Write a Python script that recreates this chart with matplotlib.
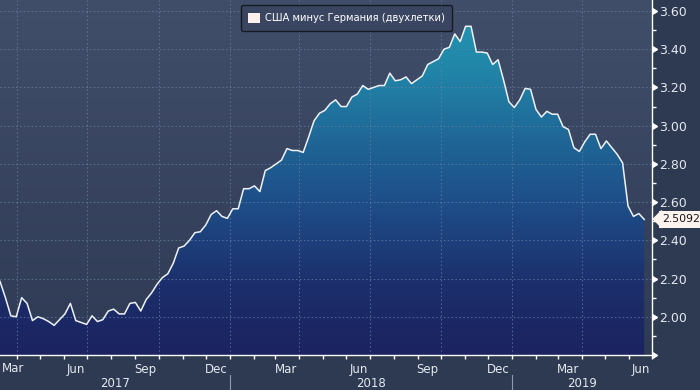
import numpy as np
import pandas as pd
import matplotlib
matplotlib.use('Agg')
from matplotlib import pyplot as plt
import matplotlib.dates as mdates
import matplotlib.transforms as mtransforms
from matplotlib.colors import LinearSegmentedColormap
from matplotlib.patches import Patch

# недельные данные (пятницы), спред 2-летних доходностей США - Германия
start = '2017-03-10'
spread = [2.185, 2.10, 2.005, 2.00, 2.10, 2.07, 1.98, 2.00, 1.99, 1.975,
          1.955, 1.985, 2.015, 2.07, 1.98, 1.97, 1.96, 2.005, 1.975, 1.985,
          2.03, 2.04, 2.015, 2.015, 2.07, 2.075, 2.03, 2.09, 2.125, 2.17,
          2.205, 2.225, 2.28, 2.36, 2.37, 2.40, 2.44, 2.445, 2.48, 2.535,
          2.555, 2.525, 2.515, 2.565, 2.565, 2.67, 2.67, 2.685, 2.655, 2.765,
          2.78, 2.80, 2.82, 2.88, 2.87, 2.87, 2.86, 2.94, 3.025, 3.065,
          3.08, 3.115, 3.135, 3.10, 3.10, 3.15, 3.165, 3.21, 3.19, 3.20,
          3.21, 3.21, 3.275, 3.235, 3.24, 3.255, 3.22, 3.24, 3.26, 3.32,
          3.335, 3.35, 3.40, 3.41, 3.48, 3.44, 3.52, 3.52, 3.385, 3.385,
          3.38, 3.32, 3.345, 3.24, 3.125, 3.095, 3.135, 3.195, 3.19, 3.085,
          3.045, 3.075, 3.06, 3.06, 2.995, 2.98, 2.885, 2.865, 2.915, 2.955,
          2.955, 2.88, 2.92, 2.885, 2.85, 2.805, 2.58, 2.525, 2.54, 2.5092]
dates = pd.date_range(start, periods=len(spread), freq='7D')
last_label = '2.5092'

quarter_ticks = ['2017-04-01', '2017-07-01', '2017-10-01', '2018-01-01', '2018-04-01',
                 '2018-07-01', '2018-10-01', '2019-01-01', '2019-04-01', '2019-07-01']
month_labels = ['Mar', 'Jun', 'Sep', 'Dec', 'Mar', 'Jun', 'Sep', 'Dec', 'Mar', 'Jun']
years = ['2017', '2018', '2019']
year_starts = ['2018-01-01', '2019-01-01']
y_ticks = [1.8, 2.0, 2.2, 2.4, 2.6, 2.8, 3.0, 3.2, 3.4, 3.6]
y_labels = ['', '2.00', '2.20', '2.40', '2.60', '2.80', '3.00', '3.20', '3.40', '3.60']
legend_label = 'США минус Германия (двухлетки)'

# цвета
fig_bg = '#2e3a52'
txt = '#e4e9f0'
bg_cmap = LinearSegmentedColormap.from_list('bg', ['#2f3b55', '#414e6a'])
fill_cmap = LinearSegmentedColormap.from_list(
    'fill', ['#1b2360', '#1c2f6c', '#1e4a85', '#1f6596', '#2185a8', '#2399b4'])

fig = plt.figure(figsize=(7, 3.9), dpi=100, facecolor=fig_bg)
ax = fig.add_axes([0, 35 / 390, 652 / 700, 355 / 390])

x = mdates.date2num(dates)
xlo = mdates.date2num(pd.Timestamp('2017-03-10'))
xhi = mdates.date2num(pd.Timestamp('2019-07-01'))
ylo, yhi = 1.80, 3.6575

# фон с градиентом
grad = np.linspace(0, 1, 256).reshape(-1, 1)
ax.imshow(grad, cmap=bg_cmap, extent=[0, 1, 0, 1], origin='lower', aspect='auto',
          transform=ax.transAxes, zorder=0)

# заливка под линией
poly = ax.fill_between(x, spread, ylo, color='none', lw=0)
im = ax.imshow(grad, cmap=fill_cmap, extent=[xlo, xhi, ylo, yhi], origin='lower',
               aspect='auto', zorder=1)
im.set_clip_path(poly.get_paths()[0], transform=ax.transData)
ax.plot(x, spread, color='#eef2f7', lw=1.1, zorder=3)

ax.set_xlim(xlo, xhi)
ax.set_ylim(ylo, yhi)

# сетка
ax.set_axisbelow(False)
ax.grid(True, which='major', color='#6a82a6', lw=0.7, ls=(0, (1.5, 2.5)), alpha=0.75)

# ось X (первую подпись двигаем внутрь, как в оригинале)
qt = mdates.date2num(pd.to_datetime(quarter_ticks))
ax.set_xticks(qt)
ax.set_xticklabels([''] + month_labels[1:], ha='right')
ax.xaxis.set_minor_locator(mdates.MonthLocator())
ax.tick_params(axis='x', which='both', direction='out', length=3, width=1,
               color='white', labelcolor=txt, labelsize=8.5, pad=3)
for lbl in ax.get_xticklabels():
    lbl.set_transform(lbl.get_transform() + mtransforms.ScaledTranslation(-0.02, 0, fig.dpi_scale_trans))
ax.text(0, 1 - 368 / 390, month_labels[0], transform=fig.transFigure + mtransforms.ScaledTranslation(0.02, 0, fig.dpi_scale_trans),
        ha='left', va='center', color=txt, fontsize=8.5)

# годы
bounds = [xlo] + list(mdates.date2num(pd.to_datetime(year_starts))) + [xhi]
for i, yr in enumerate(years):
    ax.text((bounds[i] + bounds[i + 1]) / 2, -0.079, yr, transform=ax.get_xaxis_transform(),
            ha='center', va='center', color=txt, fontsize=8.5)
for b in bounds[1:-1]:
    ax.axvline(b, ymin=-0.1, ymax=-0.055, color='#8d99ad', lw=0.8, clip_on=False)

# ось Y справа
ax.yaxis.tick_right()
ax.set_yticks(y_ticks)
ax.set_yticklabels(y_labels)
ax.set_yticks(np.arange(1.9, 3.65, 0.2), minor=True)
ax.tick_params(axis='y', which='major', length=0, pad=5, labelcolor=txt, labelsize=9)
ax.tick_params(axis='y', which='minor', length=3, width=1, color='white')
ax.plot([1] * len(y_ticks), y_ticks, ls='none', marker=9, ms=5, color='white',
        transform=ax.get_yaxis_transform(), clip_on=False, zorder=5)

for s in ['top', 'left']:
    ax.spines[s].set_visible(False)
for s in ['right', 'bottom']:
    ax.spines[s].set_color('white')
    ax.spines[s].set_linewidth(1)

# метка последнего значения
last = spread[-1]
ax.annotate(last_label, xy=(1, last), xycoords=('axes fraction', 'data'),
            xytext=(10, 0), textcoords='offset pixels', ha='left', va='center',
            fontsize=7.8, color='#151515', annotation_clip=False, zorder=6,
            bbox=dict(boxstyle='square,pad=0.3', fc='#fdf3ee', ec='none'))
ax.plot([1], [last], ls='none', marker=[(-1, 0), (0, 1), (0, -1)], ms=12.5,
        color='#fdf3ee', clip_on=False, zorder=6,
        transform=ax.get_yaxis_transform() + mtransforms.ScaledTranslation(0.085, 0, fig.dpi_scale_trans))

# легенда
leg = fig.legend(handles=[Patch(fc='#fdf0ec', ec='none')], labels=[legend_label],
                 loc='upper center', bbox_to_anchor=(0.495, 0.987), frameon=True,
                 facecolor='#3a4661', edgecolor='#141922', fancybox=True,
                 handlelength=1.2, handleheight=1.2, handletextpad=0.5,
                 borderpad=0.75, borderaxespad=0, fontsize=7.2, labelcolor='white')
leg.get_frame().set_linewidth(1)
leg.get_frame().set_alpha(1)

fig.savefig('out.png', dpi=100, facecolor=fig_bg)
